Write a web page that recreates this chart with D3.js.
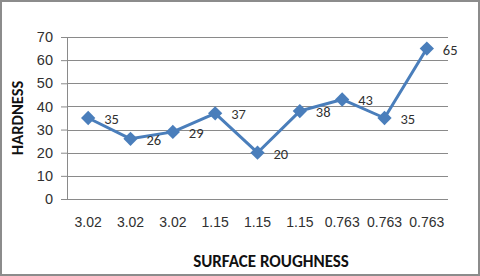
<!DOCTYPE html>
<html>
<head>
<meta charset="utf-8">
<script src="https://cdn.jsdelivr.net/npm/d3@7"></script>
<style>
  body { margin: 0; background: #fff; }
  svg { display: block; font-family: Carlito, Lato, "Liberation Sans", Arial, sans-serif; }
</style>
</head>
<body>
<div class="chart"></div>
<script>
var categories = ['3.02', '3.02', '3.02', '1.15', '1.15', '1.15', '0.763', '0.763', '0.763'];
var hardness = [35, 26, 29, 37, 20, 38, 43, 35, 65];
var yTicks = [0, 10, 20, 30, 40, 50, 60, 70];

var W = 480, H = 276;
var margin = { top: 37, right: 32, bottom: 77, left: 67 };
var width = W - margin.left - margin.right;
var height = H - margin.top - margin.bottom;

var data = hardness.map((v, i) => ({ i: i, cat: categories[i], value: v }));

var root = d3.select('.chart')
    .append('svg')
    .attr('width', W)
    .attr('height', H)

root.append('rect')
    .attr('x', 1).attr('y', 1)
    .attr('width', W - 2).attr('height', H - 2)
    .attr('fill', '#fff')
    .attr('stroke', '#8c8c8c')
    .attr('stroke-width', 2)

var svg = root.append('g')
    .attr('transform', `translate(${margin.left},${margin.top})`)

var yScale = d3.scaleLinear()
    .domain([0, 70])
    .range([height, 0])

var xScale = d3.scaleBand()
    .domain(d3.range(categories.length))
    .range([0, width])

// gridlines
svg.append('g')
    .selectAll('line')
    .data(yTicks)
    .enter()
    .append('line')
    .attr('x1', 0).attr('x2', width)
    .attr('y1', d => Math.round(yScale(d)) + 0.5)
    .attr('y2', d => Math.round(yScale(d)) + 0.5)
    .attr('stroke', '#8a8a8a')
    .attr('stroke-width', 1)

var yAxis = d3.axisLeft(yScale).tickValues(yTicks).tickSize(6).tickPadding(8)
var gy = svg.append('g').call(yAxis)
gy.select('.domain').attr('stroke', '#8a8a8a')
gy.selectAll('.tick line').attr('stroke', '#8a8a8a')
gy.selectAll('.tick text').attr('font-size', 14.5).attr('fill', '#303030')

var xAxis = d3.axisBottom(xScale).tickSize(0).tickPadding(18).tickFormat(i => categories[i])
var gx = svg.append('g')
    .attr('transform', 'translate(0,' + height + ')')
    .call(xAxis)
gx.select('.domain').remove()
gx.selectAll('.tick text').attr('font-size', 14).attr('fill', '#303030')

var cx = d => xScale(d.i) + xScale.bandwidth() / 2

var line = d3.line()
    .x(cx)
    .y(d => yScale(d.value))

svg.append('path')
    .datum(data)
    .attr('d', line)
    .attr('fill', 'none')
    .attr('stroke', '#4a7ebb')
    .attr('stroke-width', 3)
    .attr('stroke-linejoin', 'round')

svg.selectAll('.marker')
    .data(data)
    .enter()
    .append('path')
    .attr('class', 'marker')
    .attr('d', d3.symbol().type(d3.symbolDiamond2).size(130))
    .attr('transform', d => `translate(${cx(d)},${yScale(d.value)})`)
    .attr('fill', '#4a7ebb')

svg.selectAll('.label')
    .data(data)
    .enter()
    .append('text')
    .attr('class', 'label')
    .attr('x', d => cx(d) + 16)
    .attr('y', d => yScale(d.value) + 6)
    .attr('font-size', 14.5)
    .attr('fill', '#303030')
    .text(d => d.value)

root.append('text')
    .attr('x', 271)
    .attr('y', 267)
    .attr('text-anchor', 'middle')
    .attr('font-size', 17)
    .attr('font-weight', 'bold')
    .attr('fill', '#111')
    .text('SURFACE ROUGHNESS')

root.append('text')
    .attr('transform', `translate(23,118) rotate(-90)`)
    .attr('text-anchor', 'middle')
    .attr('font-size', 16.5)
    .attr('font-weight', 'bold')
    .attr('fill', '#111')
    .text('HARDNESS')
</script>
</body>
</html>
